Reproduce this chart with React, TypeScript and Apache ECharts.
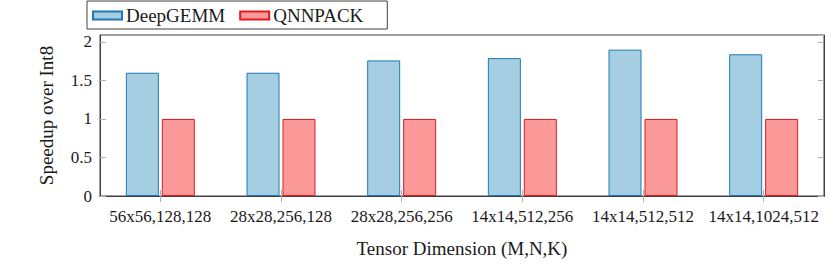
import React, { useEffect, useRef } from "react";
import * as echarts from "echarts";

const categories = ["56x56,128,128", "28x28,256,128", "28x28,256,256", "14x14,512,256", "14x14,512,512", "14x14,1024,512"];
const deepGemm = [1.6, 1.6, 1.76, 1.79, 1.9, 1.84];
const qnnpack = [1, 1, 1, 1, 1, 1];
const seriesNames = ["DeepGEMM", "QNNPACK"];
const xTitle = "Tensor Dimension (M,N,K)";
const yTitle = "Speedup over Int8";

const font = "Liberation Serif";

export default function App() {
  const ref = useRef<HTMLDivElement>(null);
  useEffect(() => {
    if (!ref.current) return;
    const chart = echarts.init(ref.current, undefined, { renderer: "svg" });
    const tickStyle = { color: "#b0b0b0", width: 1 };
    chart.setOption({
      animation: false,
      textStyle: { fontFamily: font, color: "#1a1a1a" },
      grid: { left: 100, right: 6, top: 35, bottom: 69, show: true, borderColor: "#404040", borderWidth: 1, backgroundColor: "transparent" },
      legend: {
        left: 87,
        top: 1,
        orient: "horizontal",
        icon: "rect",
        itemWidth: 29,
        itemHeight: 8,
        itemGap: 14,
        padding: [5, 24, 4, 5],
        borderColor: "#404040",
        borderWidth: 1,
        textStyle: { fontFamily: font, fontSize: 19, color: "#1a1a1a", padding: [0, 0, 0, -1] },
        data: seriesNames,
      },
      xAxis: [
        {
          type: "category",
          data: categories,
          position: "bottom",
          axisLine: { lineStyle: { color: "#404040" } },
          axisTick: { show: true, inside: false, length: 6, alignWithLabel: true, lineStyle: tickStyle },
          axisLabel: { fontFamily: font, fontSize: 17, color: "#1a1a1a", margin: 12, interval: 0 },
          name: xTitle,
          nameLocation: "middle",
          nameGap: 43,
          nameTextStyle: { fontFamily: font, fontSize: 19, color: "#1a1a1a" },
        },
        {
          type: "category",
          data: categories,
          position: "top",
          axisLine: { lineStyle: { color: "#404040" } },
          axisTick: { show: true, inside: false, length: 6, alignWithLabel: true, lineStyle: tickStyle },
          axisLabel: { show: false },
        },
      ],
      yAxis: [
        {
          type: "value",
          min: 0,
          max: 2.09,
          interval: 0.5,
          position: "left",
          axisLine: { show: true, lineStyle: { color: "#404040" } },
          axisTick: { show: true, inside: true, length: 6, lineStyle: tickStyle },
          splitLine: { show: false },
          axisLabel: { fontFamily: font, fontSize: 17, color: "#1a1a1a", margin: 8, showMaxLabel: false },
          name: yTitle,
          nameLocation: "middle",
          nameGap: 44,
          nameRotate: 90,
          nameTextStyle: { fontFamily: font, fontSize: 19, color: "#1a1a1a" },
        },
        {
          type: "value",
          min: 0,
          max: 2.09,
          interval: 0.5,
          position: "right",
          axisLine: { show: true, lineStyle: { color: "#404040" } },
          axisTick: { show: true, inside: true, length: 6, lineStyle: tickStyle },
          splitLine: { show: false },
          axisLabel: { show: false },
        },
      ],
      series: [
        {
          name: seriesNames[0],
          type: "bar",
          data: deepGemm,
          barWidth: 33,
          barGap: "9%",
          itemStyle: { color: "#a6cee3", borderColor: "#1f78b4", borderWidth: 1 },
        },
        {
          name: seriesNames[1],
          type: "bar",
          data: qnnpack,
          barWidth: 33,
          barGap: "9%",
          itemStyle: { color: "#fb9a99", borderColor: "#e31a1c", borderWidth: 1 },
        },
      ],
    });
    return () => chart.dispose();
  }, []);
  return <div ref={ref} style={{ width: 830, height: 265, position: "absolute", left: 0, top: 0 }} />;
}
